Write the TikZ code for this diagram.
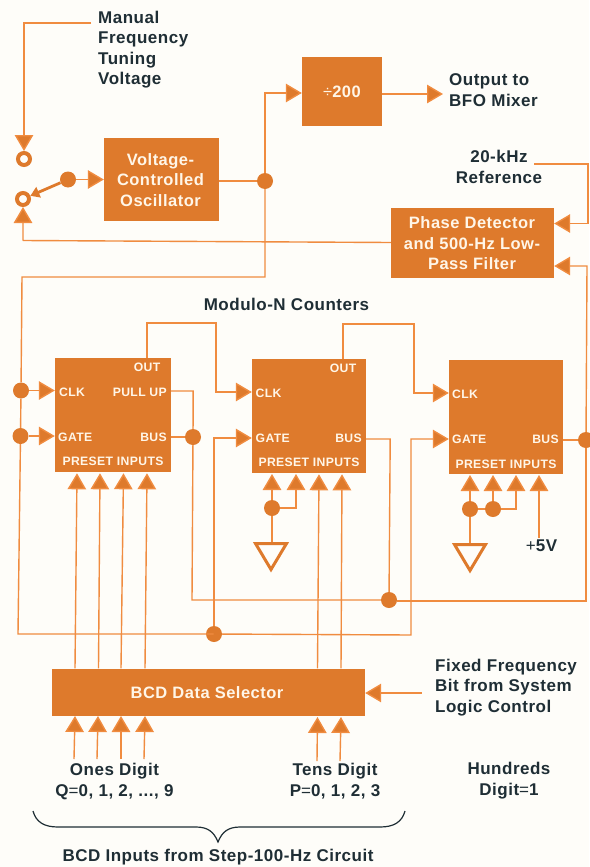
\documentclass[tikz,border=0pt]{standalone}
\usepackage{fontspec}
\setmainfont{Liberation Sans}[LetterSpace=3]
\usetikzlibrary{arrows.meta}

\definecolor{paper}{HTML}{FEFDF9}
\definecolor{boxor}{HTML}{DE7A2C}
\definecolor{lineor}{HTML}{F08C40}
\definecolor{ink}{HTML}{1F2E35}
\definecolor{inkw}{HTML}{FFF6E8}

\tikzset{
  sbox/.style={fill=boxor,inner sep=0pt},
  lab/.style={text=ink,inner sep=0pt,align=center,font=\bfseries\fontsize{17}{20.5}\selectfont},
  boxlab/.style={text=inkw,inner sep=0pt,align=center,font=\bfseries\fontsize{16.5}{20.5}\selectfont},
  inlab/.style={text=inkw,inner sep=0pt,font=\bfseries\fontsize{12.2}{14}\selectfont},
  dot/.style={circle,fill=boxor,inner sep=0pt,minimum size=16pt},
  ring/.style={circle,draw=boxor,fill=paper,line width=4pt,inner sep=0pt,minimum size=12pt},
  wire/.style={draw=lineor,line width=1.4pt},
  sig/.style={wire,-{Triangle[length=16pt,width=18.5pt,fill=boxor]}},
  gnd/.style={draw=boxor,line width=3pt,fill=paper}
}

\begin{document}
\begin{tikzpicture}[x=1pt,y=-1pt]
\useasboundingbox (0,0) rectangle (589,867);
\fill[paper] (0,0) rectangle (589,867);

% Blocks
\node[sbox,minimum width=115pt,minimum height=83pt] (vco) at (161.5,179.5) {};
\node[sbox,minimum width=80pt,minimum height=69pt] (div) at (342,91.5) {};
\node[sbox,minimum width=163pt,minimum height=70pt] (pd) at (472.5,243) {};
\node[sbox,minimum width=116pt,minimum height=114pt] (cntA) at (113,415) {};
\node[sbox,minimum width=114pt,minimum height=114pt] (cntB) at (309,416) {};
\node[sbox,minimum width=114pt,minimum height=114pt] (cntC) at (506,417) {};
\node[sbox,minimum width=313pt,minimum height=47pt] (bcd) at (208.5,692) {};

% Block texts
\node[boxlab] (tVco) at (160.5,180) {Voltage-\\Controlled\\Oscillator};
\node[boxlab] (tDiv) at (342,92) {{\mdseries ÷}200};
\node[boxlab] (tPd) at (472,243.5) {Phase Detector\\and 500-Hz Low-\\Pass Filter};
\node[boxlab] (tBcd) at (207,692.5) {BCD Data Selector};

% Counter texts
\node[inlab] (tOutA) at (147,367) {OUT};
\node[inlab,anchor=west] (tClkA) at (59,392) {CLK};
\node[inlab,anchor=east] (tPull) at (167,392) {PULL UP};
\node[inlab,anchor=west] (tGateA) at (58,437) {GATE};
\node[inlab,anchor=east] (tBusA) at (167,437) {BUS};
\node[inlab] (tPreA) at (113,461) {PRESET INPUTS};

\node[inlab] (tOutB) at (343,368) {OUT};
\node[inlab,anchor=west] (tClkB) at (255.5,393) {CLK};
\node[inlab,anchor=west] (tGateB) at (255.5,438) {GATE};
\node[inlab,anchor=east] (tBusB) at (362,438) {BUS};
\node[inlab] (tPreB) at (309,462) {PRESET INPUTS};

\node[inlab,anchor=west] (tClkC) at (452,394) {CLK};
\node[inlab,anchor=west] (tGateC) at (452,439) {GATE};
\node[inlab,anchor=east] (tBusC) at (559,439) {BUS};
\node[inlab] (tPreC) at (506,464) {PRESET INPUTS};

% Outer texts
\node[lab,anchor=west,align=left] (tMan) at (98,49.5) {Manual\\Frequency\\Tuning\\Voltage};
\node[lab,anchor=west,align=left] (tOutput) at (449,90) {Output to\\BFO Mixer};
\node[lab] (tRef) at (499,167) {20-kHz\\Reference};
\node[lab] (tMod) at (286.5,304) {Modulo-N Counters};
\node[lab,anchor=west,align=left] (tFix) at (435,687.5) {Fixed Frequency\\Bit from System\\Logic Control};
\node[lab] (tOnes) at (114.5,781.5) {Ones Digit\\Q{\mdseries =}0, 1, 2, ..., 9};
\node[lab] (tTens) at (335,781) {Tens Digit\\P{\mdseries =}0, 1, 2, 3};
\node[lab] (tHun) at (509,780.5) {Hundreds\\Digit{\mdseries =}1};
\node[lab] (tStep) at (218,857) {BCD Inputs from Step-100-Hz Circuit};
\node[lab] (tFive) at (541.5,546) {{\mdseries +}5V};

% Switch
\node[ring] (swA) at (24,159) {};
\node[ring] (swB) at (23,199) {};
\node[dot] (dSw) at (68,179.5) {};
\draw[boxor,line width=2.8pt,-{Triangle[length=9pt,width=11pt,fill=boxor]}] (dSw)--(swB);
\draw[sig] (dSw)--(vco.west|-dSw);

% Dots
\node[dot] (dVco) at (265,181) {};
\node[dot] (dClk) at (21,390.5) {};
\node[dot] (dGate) at (20.5,436) {};
\node[dot] (dBusA) at (193,437) {};
\node[dot] (dBusB) at (389,600) {};
\node[dot] (dBusC) at (586,440) {};
\node[dot] (dLow) at (214,634) {};
\node[dot] (dPreB) at (272,508) {};
\node[dot] (dPreC) at (470,509) {};
\node[dot] (dPreD) at (493,509) {};

% Free ends
\coordinate (cMan) at (91,23);
\coordinate (cRef) at (534,164);
\coordinate (cFix) at (421.5,693);
\coordinate (cOut) at (443,94);
\coordinate (cFive) at (539,538);

% Top connections
\draw[sig] (cMan)-|(swA);
\draw[wire] (vco.east|-dVco)--(dVco);
\draw[sig] (dVco)|-(div.west|-0,93);
\draw[sig] (div.east|-0,94)--(cOut);
\draw[sig] (pd.west|-0,242.5)--++(-368,-2)-|(swB);
\draw[wire] (dVco)--++(0,96)--++(-243,0)--(dClk);
\draw[wire] (dClk)--(dGate);
\draw[wire] (dGate)--++(-2.5,198)--++(195.5,0)--(dLow);
\draw[sig] (cRef)--++(54,0)--++(0,59.5)--(pd.east|-0,223.5);
\draw[sig] (dBusC)--(587,266)--(pd.east|-0,266);
\draw[wire] (dBusC)--++(0,161)--(dBusB.east|-0,601);
\draw[wire] (dBusC)--(cntC.east|-dBusC);

% Counter clocks and gates
\draw[sig] (dClk)--(cntA.west|-dClk);
\draw[sig] (dGate)--(cntA.west|-dGate);
\draw[sig] (cntA.north-|tOutA)--++(0,-35)--++(69,0)|-(cntB.west|-0,392);
\draw[sig] (dLow)|-(cntB.west|-0,438);
\draw[sig] (cntB.north-|tOutB)--++(0,-35)--++(71,0)|-(cntC.west|-0,393);
\draw[sig] (dLow)--++(197,1)--++(0,-196)--(cntC.west|-0,439);

% Counter outputs
\draw[wire] (cntA.east|-0,391)--++(22,0)--(dBusA);
\draw[wire] (cntA.east|-dBusA)--(dBusA);
\draw[wire] (dBusA)--++(-1,163)--(dBusB);
\draw[wire] (cntB.east|-0,439)--++(24,0)--(dBusB);

% Preset lines to data selector
\draw[sig] (bcd.north-|75,0)--++(2,-195);
\draw[sig] (bcd.north-|98.5,0)--++(1.5,-195);
\draw[sig] (bcd.north-|121,0)--++(2.5,-195);
\draw[sig] (bcd.north-|145,0)--++(2,-195);
\draw[sig] (bcd.north-|317.5,0)--++(1.5,-194);
\draw[sig] (bcd.north-|341,0)--++(1,-194);

% Tied inputs
\draw[sig] (dPreB)--(272,474);
\draw[sig] (dPreB)--++(24,0)--(296,474);
\draw[sig] (dPreC)--(470,475);
\draw[sig] (dPreD)--(493,475);
\draw[sig] (dPreD)--++(23,0)--(516,475);
\draw[sig] (cFive)--(539,475);
\draw[wire] (dPreC)--(dPreD);

% Grounds
\draw[gnd] (255.5,543.5)--++(31,0)--++(-15.5,26)--cycle;
\draw[gnd] (454.5,544.5)--++(31,0)--++(-15.5,26)--cycle;
\draw[wire] (dPreB)--(272,542);
\draw[wire] (dPreC)--(470,543);

% Data selector inputs
\coordinate (cQa) at (74,759);
\coordinate (cQb) at (97,759);
\coordinate (cQc) at (121,759);
\coordinate (cQd) at (144,759);
\coordinate (cPa) at (317,761);
\coordinate (cPb) at (340,761);
\draw[sig] (cQa)--(75,716);
\draw[sig] (cQb)--(98,716);
\draw[sig] (cQc)--(121,716);
\draw[sig] (cQd)--(145,716);
\draw[sig] (cPa)--(317.5,717);
\draw[sig] (cPb)--(341,717);
\draw[sig] (cFix)--(bcd.east|-cFix);

% Brace
\draw[ink,line width=1.2pt] (33,811) .. controls (36,822) and (44,827) .. (58,827)--(196,827) .. controls (208,827) and (214,832) .. (218,842) .. controls (222,832) and (228,827) .. (240,827)--(380,827) .. controls (394,827) and (402,822) .. (405,811);

\end{tikzpicture}
\end{document}
